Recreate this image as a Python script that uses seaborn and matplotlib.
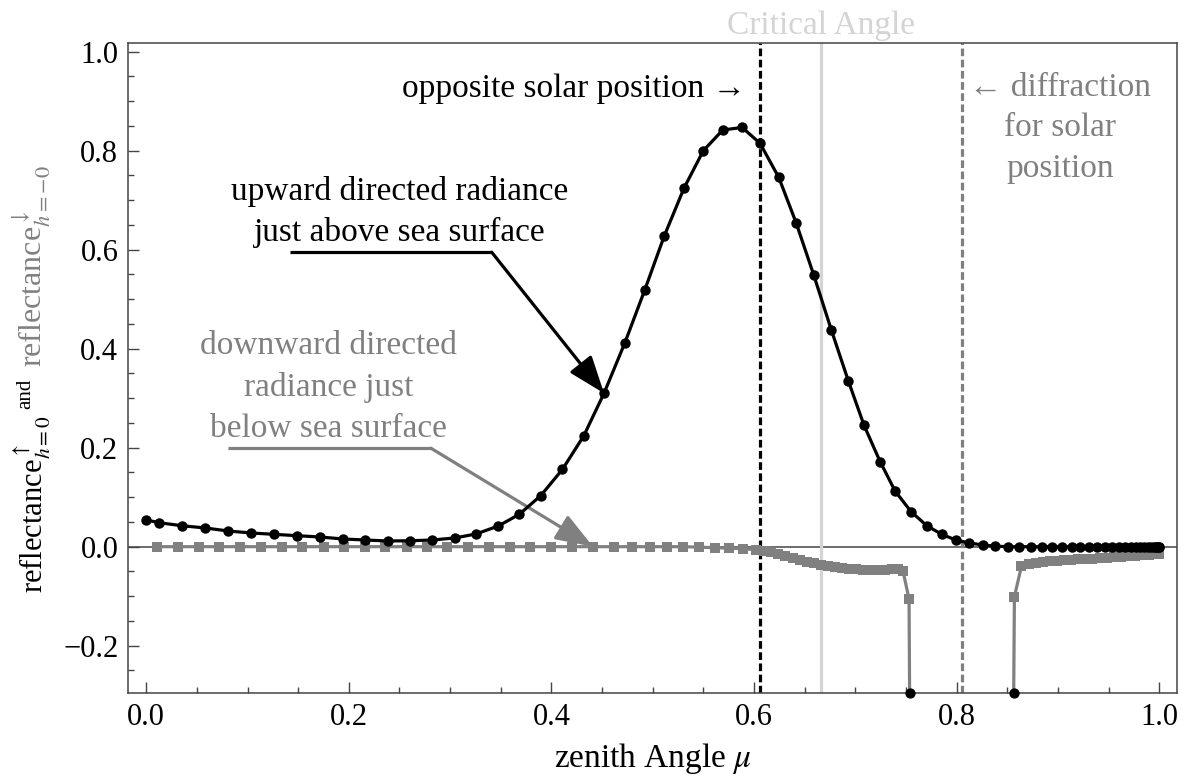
import numpy as np
import pandas as pd
import matplotlib
matplotlib.use("Agg")
import matplotlib.pyplot as plt
import seaborn as sns

# ---------------- data ----------------
mu_up = [0.000, 0.0126, 0.035, 0.0583, 0.081, 0.1035, 0.126, 0.1489, 0.1716, 0.194,
         0.2163, 0.2384, 0.2604, 0.2824, 0.3045, 0.3256, 0.3476, 0.3683, 0.3894, 0.4108,
         0.4319, 0.4519, 0.4724, 0.4921, 0.5114, 0.5309, 0.5499, 0.5691, 0.5882, 0.6059,
         0.6244, 0.6415, 0.6589, 0.6763, 0.6931, 0.7086, 0.7244, 0.7392, 0.755, 0.7705,
         0.7853, 0.7991, 0.8125, 0.8258, 0.8379, 0.8504, 0.8619, 0.8729, 0.8838, 0.8942,
         0.9041, 0.9135, 0.9219, 0.9304, 0.9385, 0.9461, 0.9532, 0.9598, 0.9659, 0.9716,
         0.9767, 0.9813, 0.9854, 0.9890, 0.9921, 0.9947, 0.9968, 0.9982, 0.9993, 0.9999]
refl_up = [0.054, 0.0485, 0.0424, 0.0378, 0.0317, 0.0277, 0.025, 0.0222, 0.0196, 0.0156,
           0.0135, 0.0115, 0.012, 0.0135, 0.0176, 0.0257, 0.0418, 0.0655, 0.103, 0.156,
           0.224, 0.310, 0.4115, 0.5186, 0.628, 0.7246, 0.800, 0.8418, 0.847, 0.815,
           0.746, 0.6545, 0.549, 0.4378, 0.3347, 0.245, 0.172, 0.1125, 0.0707, 0.0424,
           0.025, 0.0135, 0.0075, 0.0034, 0.001, 0.0, 0.0, 0.0, 0.0, 0.0,
           0.0, 0.0, 0.0, 0.0, 0.0, 0.0, 0.0, 0.0, 0.0, 0.0,
           0.0, 0.0, 0.0, 0.0, 0.0, 0.0, 0.0, 0.0, 0.0, 0.0]

mu_down = [0.011, 0.031, 0.052, 0.072, 0.093, 0.113, 0.134, 0.154, 0.175, 0.195,
           0.216, 0.236, 0.257, 0.277, 0.297, 0.318, 0.338, 0.359, 0.379, 0.400,
           0.420, 0.441, 0.462, 0.480, 0.497, 0.514, 0.530, 0.546, 0.561, 0.575,
           0.589, 0.602,
           0.610, 0.617, 0.624, 0.631, 0.638, 0.645, 0.652, 0.659, 0.666, 0.673,
           0.680, 0.687, 0.694, 0.701, 0.708, 0.715, 0.722, 0.729, 0.736, 0.742, 0.747,
           0.753, 0.757, 0.852, 0.857, 0.864,
           0.871, 0.878, 0.885, 0.892, 0.899, 0.906, 0.913, 0.920, 0.927, 0.934,
           0.941, 0.948, 0.955, 0.962, 0.969, 0.976, 0.983, 0.990, 0.996, 1.000]
refl_down = [0.0, 0.0, 0.0, 0.0, 0.0, 0.0, 0.0, 0.0, 0.0, 0.0,
             0.0, 0.0, 0.0, 0.0, 0.0, 0.0, 0.0, 0.0, 0.0, 0.0,
             0.0, 0.0, 0.0, 0.0, 0.0, 0.0, 0.0, -0.001, -0.002, -0.003,
             -0.004, -0.006,
             -0.008, -0.011, -0.014, -0.018, -0.022, -0.026, -0.030, -0.033, -0.036, -0.039,
             -0.041, -0.043, -0.045, -0.046, -0.047, -0.047, -0.047, -0.047, -0.046, -0.046, -0.049,
             -0.106, -1.5, -1.5, -0.101, -0.039,
             -0.035, -0.032, -0.030, -0.029, -0.028, -0.027, -0.026, -0.025, -0.0245, -0.024,
             -0.023, -0.022, -0.021, -0.020, -0.019, -0.018, -0.017, -0.016, -0.0155, -0.015]

opposite_mu = 0.606
critical_mu = 0.666
diffraction_mu = 0.805

x_ticks = [0.0, 0.2, 0.4, 0.6, 0.8, 1.0]
x_ticklabels = ["0.0", "0.2", "0.4", "0.6", "0.8", "1.0"]
y_ticks = [-0.2, 0.0, 0.2, 0.4, 0.6, 0.8, 1.0]
y_ticklabels = ["\u22120.2", "0.0", "0.2", "0.4", "0.6", "0.8", "1.0"]

up_df = pd.DataFrame({"mu": mu_up, "refl": refl_up})
down_df = pd.DataFrame({"mu": mu_down, "refl": refl_down})

# ---------------- style ----------------
sns.set_theme(style="white")
plt.rcParams["font.family"] = ["Liberation Serif", "DejaVu Serif"]
plt.rcParams["mathtext.fontset"] = "stix"

GRAY = "#808080"
LIGHT = "#d4d4d4"
SPINE = "#444444"
ANN = 24

fig = plt.figure(figsize=(11.83, 7.80), dpi=100)
ax = fig.add_axes([128 / 1183, 1 - 693 / 780, (1177 - 128) / 1183, (693 - 43) / 780])

ylo, yhi = -0.2956, 1.0176
ax.set_xlim(-0.018, 1.0175)
ax.set_ylim(ylo, yhi)

# axis line at zero
ax.axhline(0, color=SPINE, lw=1.1, zorder=1)

# vertical reference lines
ax.axvline(opposite_mu, color="black", lw=2.3, ls=(0, (2.4, 1.1)), zorder=2)
ax.axvline(critical_mu, color=LIGHT, lw=2.3, zorder=2)
ax.axvline(diffraction_mu, color=GRAY, lw=2.3, ls=(0, (2.4, 1.1)), zorder=2)

# series
sns.lineplot(data=down_df, x="mu", y="refl", ax=ax, color=GRAY, lw=2.3,
             marker="s", markersize=6.5, markeredgewidth=0, estimator=None, zorder=3)
sns.lineplot(data=up_df, x="mu", y="refl", ax=ax, color="black", lw=2.3,
             marker="o", markersize=7.5, markeredgewidth=0, estimator=None, zorder=4)

# black dots where the gray curve leaves the frame at the bottom
md = np.array(mu_down); rd = np.array(refl_down)
exits = []
for i in range(len(md) - 1):
    if (rd[i] - ylo) * (rd[i + 1] - ylo) < 0:
        t = (ylo - rd[i]) / (rd[i + 1] - rd[i])
        exits.append(md[i] + t * (md[i + 1] - md[i]))
ax.scatter(exits, [ylo] * len(exits), s=55, color="black", zorder=5, clip_on=False, linewidths=0)

# ticks
ax.set_xticks(x_ticks)
ax.set_xticklabels(x_ticklabels)
ax.set_yticks(y_ticks)
ax.set_yticklabels(y_ticklabels)
ax.set_xticks(np.arange(-0.0, 1.0001, 0.05), minor=True)
ax.set_yticks(np.arange(-0.25, 1.0001, 0.05), minor=True)
ax.tick_params(axis="both", which="major", direction="in", length=8, width=1,
               color=SPINE, labelsize=22, labelcolor="black", pad=7,
               bottom=True, left=True, top=False, right=False)
ax.tick_params(axis="both", which="minor", direction="in", length=4.5, width=1,
               color=SPINE, bottom=True, left=True, top=False, right=False)
for s in ax.spines.values():
    s.set_color(SPINE)
    s.set_linewidth(1.1)

ax.set_xlabel(r"zenith Angle $\mu$", fontsize=24, labelpad=7, color="black")
ax.set_ylabel("")

# y label, built from three coloured pieces
fig.text(0.027, 1 - 593 / 780, r"reflectance$^{\uparrow}_{h=0}$", rotation=90,
         ha="center", va="bottom", fontsize=22, color="black")
fig.text(0.022, 1 - 394 / 780, "and", rotation=90, ha="center", va="center",
         fontsize=15, color="black")
fig.text(0.027, 1 - 367 / 780, r"reflectance$^{\downarrow}_{h=-0}$", rotation=90,
         ha="center", va="bottom", fontsize=23, color=GRAY)

# annotations
ax.text(opposite_mu - 0.014, 0.925, "opposite solar position \u2192", ha="right",
        va="center", fontsize=ANN, color="black")
ax.text(critical_mu, 1.052, "Critical Angle", ha="center", va="center",
        fontsize=ANN, color=LIGHT, clip_on=False)
ax.text(0.902, 0.846, "\u2190 diffraction\nfor solar\nposition", ha="center",
        va="center", fontsize=ANN, color=GRAY, linespacing=1.42)

ax.text(0.2505, 0.676, "upward directed radiance\njust above sea surface", ha="center",
        va="center", fontsize=ANN, color="black", linespacing=1.42)
tip_up = (mu_up[21], refl_up[21])
ax.plot([0.142, 0.341], [0.595, 0.595], color="black", lw=2.3, solid_capstyle="butt")
ax.annotate("", xy=tip_up, xytext=(0.341, 0.595),
            arrowprops=dict(arrowstyle="-|>,head_length=2.3,head_width=0.85",
                            mutation_scale=10, lw=2.3, color="black",
                            shrinkA=0, shrinkB=0))

ax.text(0.18, 0.322, "downward directed\nradiance just\nbelow sea surface", ha="center",
        va="center", fontsize=ANN, color=GRAY, linespacing=1.46)
tip_down = (mu_down[21], refl_down[21])
ax.plot([0.081, 0.281], [0.199, 0.199], color=GRAY, lw=2.3, solid_capstyle="butt")
ax.annotate("", xy=tip_down, xytext=(0.281, 0.199),
            arrowprops=dict(arrowstyle="-|>,head_length=2.3,head_width=0.85",
                            mutation_scale=10, lw=2.3, color=GRAY,
                            shrinkA=0, shrinkB=0))

fig.savefig("out.png", dpi=100, facecolor="white")
